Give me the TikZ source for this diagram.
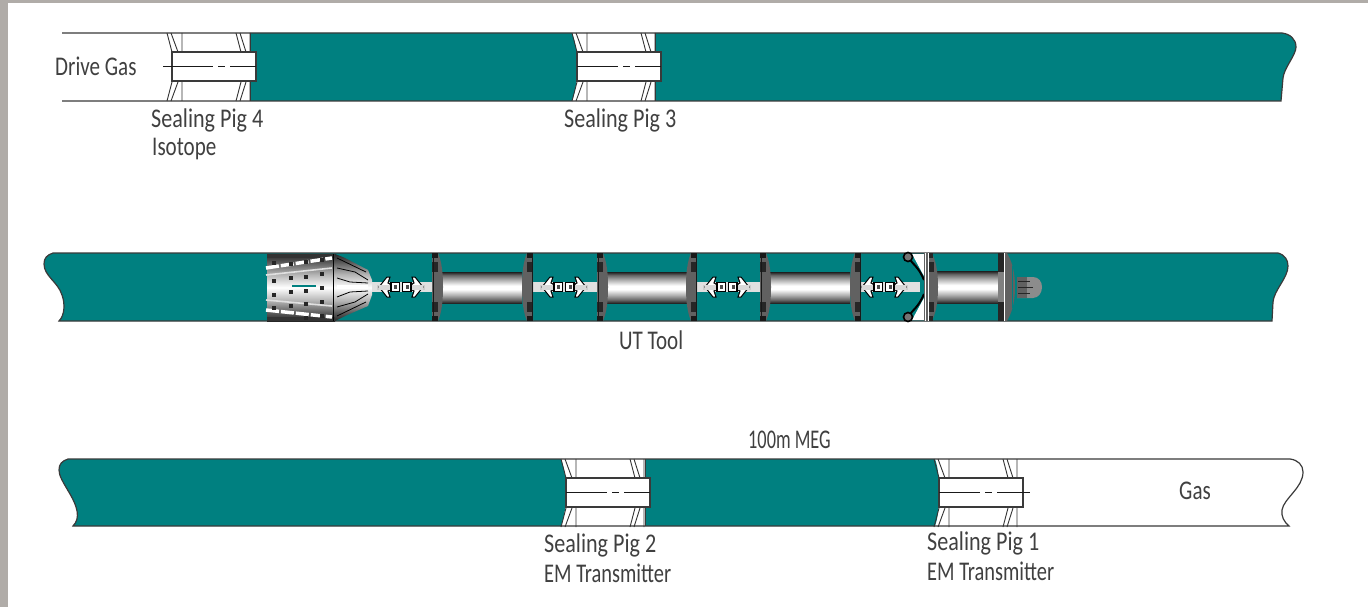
\documentclass[tikz,border=0pt]{standalone}
\usepackage{fontspec}
\setmainfont{Carlito}[FakeStretch=0.78]
\definecolor{pipeteal}{HTML}{008080}
\definecolor{framegray}{HTML}{B0ACA8}
\definecolor{linegray}{HTML}{3A3A3A}
\pgfdeclareverticalshading{tubeshade}{100bp}{color(0bp)=(black!85); color(25bp)=(black!85); color(30bp)=(black!60); color(38bp)=(black!30); color(47bp)=(white); color(53bp)=(white); color(62bp)=(black!30); color(70bp)=(black!60); color(75bp)=(black!88); color(100bp)=(black!88)}
\pgfdeclareverticalshading{cupshade}{100bp}{color(0bp)=(black!85); color(25bp)=(black!85); color(31bp)=(black!65); color(40bp)=(black!30); color(50bp)=(white); color(60bp)=(black!30); color(69bp)=(black!65); color(75bp)=(black!85); color(100bp)=(black!85)}
\tikzset{
  pipeline/.style={draw=linegray,line width=1.2pt},
  thinline/.style={draw=black!80,line width=.9pt},
  lbl/.style={anchor=west,inner sep=0pt,text=black!75,font=\fontsize{27}{27}\selectfont},
  tealfill/.style={fill=pipeteal,draw=none},
  rodfill/.style={fill=black!12,draw=none},
}
% #1 x of rect left, #2 pipe top, #3 line start, #4 line end, #5 dash pos
\newcommand{\pigbody}[5]{%
  \begin{scope}[shift={(#1,#2)}]
    \foreach \dy/\sy in {0/1,68/-1}{
      \begin{scope}[shift={(0,\dy)},yscale=\sy]
        \draw[thinline] (-5,0) -- (0,19) (-1,0) -- (6,19) (10,0) -- (10,19);
        \draw[thinline] (64,0) -- (69,19) (68,0) -- (74,19) (78,0) -- (78,19);
      \end{scope}
    }
    \fill[white] (0,19) rectangle (84,48);
    \draw[draw=linegray,line width=1.2pt] (0,19) rectangle (84,48);
    \draw[draw=black!90,line width=1pt] (#3,33.5) -- (#5,33.5) (#5+5,33.5) -- (#5+12,33.5) (#5+17,33.5) -- (#4,33.5);
  \end{scope}}
% #1 x of left edge, #2 right edge of tube, #3 right disc end
\newcommand{\toolmodule}[3]{%
  \shade[shading=tubeshade] (#1+10,272) rectangle (#2,303);
  \foreach \a/\s in {#1/1,#3/-1}{
    \begin{scope}[shift={(\a,0)},xscale=\s]
      \fill[black!62] (0,253) -- (6,253) .. controls (8,258) and (11,266) .. (11,287) .. controls (11,308) and (8,316) .. (6,321) -- (0,321) -- cycle;
      \fill[black!90] (0,253) rectangle (6,258);
      \fill[black!90] (0,316) rectangle (6,321);
      \fill[black!85] (0,262) rectangle (6,272);
      \fill[black!85] (0,302) rectangle (6,312);
      \draw[black!90,line width=.8pt] (1,253) -- (1,321);
    \end{scope}
  }}
\newcommand{\tooljoint}[3]{%
  \fill[rodfill] (#2,282) rectangle (#3,292);
  \begin{scope}[shift={(#1,287)}]
    \foreach \s in {1,-1}{
      \begin{scope}[xscale=\s]
        \fill[black!20] (3,-2.5) rectangle (24,2.5);
        \draw[black,fill=white,line width=1pt] (22,0) -- (14,-10) -- (11,-10) -- (13,-4) -- (11,-3) -- (11,3) -- (13,4) -- (11,10) -- (14,10) -- cycle;
        \fill[black!15] (10,-2.5) rectangle (22,2.5);
        \draw[black,fill=white,line width=1.2pt] (1.5,-4.5) rectangle (10,4.5);
        \fill[black!70] (4.5,-2) rectangle (7.5,2);
      \end{scope}
    }
  \end{scope}}
\begin{document}
\begin{tikzpicture}[x=1pt,y=-1pt]
\useasboundingbox (0,0) rectangle (1368,607);
\fill[white] (0,0) rectangle (1368,607);
\fill[framegray] (0,0) rectangle (1368,3.5);
\fill[framegray] (0,0) rectangle (8,607);

% ---------- row 1
\fill[tealfill] (250,33) -- (572,33) .. controls (575,42) and (577,48) .. (577,66) .. controls (577,84) and (575,92) .. (572,101) -- (250,101) -- cycle;
\fill[tealfill] (655,33) -- (1282,33) .. controls (1290,34) and (1296,39) .. (1296,47) .. controls (1296,55) and (1284,68) .. (1283,78) -- (1281,101) -- (655,101) -- cycle;
\draw[pipeline] (62,33) -- (1282,33) .. controls (1290,34) and (1296,39) .. (1296,47) .. controls (1296,55) and (1284,68) .. (1283,78) -- (1281,101) -- (62,101);
\draw[draw=linegray,line width=.8pt] (250,33) -- (250,101) (655,33) -- (655,101);
\pigbody{172}{33}{-9}{84}{41}
\pigbody{577}{33}{0}{84}{41}

% ---------- row 2
\fill[tealfill] (53,253) -- (1278,253) .. controls (1285,255) and (1288,260) .. (1288,266) .. controls (1288,278) and (1274,290) .. (1273,302) -- (1272,321) -- (59,321) .. controls (65,315) and (65,303) .. (62,295) .. controls (58,282) and (44,276) .. (44,264) .. controls (44,258) and (47,255) .. (53,253) -- cycle;
\draw[pipeline] (53,253) -- (1278,253) .. controls (1285,255) and (1288,260) .. (1288,266) .. controls (1288,278) and (1274,290) .. (1273,302) -- (1272,321) -- (59,321) .. controls (65,315) and (65,303) .. (62,295) .. controls (58,282) and (44,276) .. (44,264) .. controls (44,258) and (47,255) .. (53,253) -- cycle;

% cup
\shade[shading=cupshade] (267,254) rectangle (335,321);
\fill[black!80] (267,254) rectangle (335,258);
\fill[black!80] (267,317) rectangle (335,321);
\draw[white,line width=3.5pt,dash pattern=on 13pt off 2pt] (266,268) -- (332,258);
\draw[white,line width=3.5pt,dash pattern=on 13pt off 2pt] (266,310) -- (332,317);
\draw[black!12,line width=1.6pt] (266,275) -- (332,268);
\draw[black!12,line width=1.6pt] (266,300) -- (332,306);
\draw[pipeteal,line width=1.1pt] (292,286) -- (316,286);
\foreach \px/\py in {274/263,291/264,306/262,322/260,274/281,291/278,306/277,322/274,274/295,291/292,306/291,322/288,274/308,291/306,306/304,322/302,306/318,322/316}
  \fill[black!85] (\px-2.2,\py-2.2) rectangle (\px+2.2,\py+2.2);
\shade[shading=cupshade] (335,254) -- (345,258) -- (368,270) -- (372,280) -- (372,295) -- (368,306) -- (345,316) -- (335,321) -- cycle;
\draw[black,line width=.8pt] (333,254) -- (333,321);
\draw[black,line width=.8pt] (337,258) -- (366,272) (337,268) -- (355,272) -- (368,280) (337,278) -- (350,282) -- (368,283) (337,297) -- (350,292) -- (368,291) (337,307) -- (355,302) -- (368,294) (337,316) -- (366,302);
\fill[white] (337,285) rectangle (368,289);

\tooljoint{401}{372}{432}
\tooljoint{564}{533}{597}
\tooljoint{727}{696}{760}
\tooljoint{884}{860}{920}

\toolmodule{432}{522}{533}
\toolmodule{597}{687}{697}
\toolmodule{760}{850}{861}

% fourth module with support arms
\fill[white] (912,254) -- (925,254) -- (925,278) -- cycle;
\fill[white] (912,320) -- (925,320) -- (925,296) -- cycle;
\foreach \ya/\yb/\yc in {257/266/280,317/308/294}{
  \draw[black,line width=2pt] (908,\ya) .. controls (914,\yb) and (918,\yb) .. (924,\yc);
  \draw[black,fill=black!55,line width=1.6pt] (908,\ya) circle (4.5);
}
\shade[shading=tubeshade] (937,271) rectangle (999,303);
\fill[black!62] (924,253) -- (932,253) .. controls (935,260) and (938,268) .. (938,287) .. controls (938,306) and (935,314) .. (932,321) -- (924,321) -- cycle;
\fill[black!85] (928,253) rectangle (933,258);
\fill[black!85] (928,316) rectangle (933,321);
\fill[black!85] (928,262) rectangle (934,272);
\fill[black!85] (928,302) rectangle (934,312);
\draw[white,line width=.8pt] (925,253) -- (925,321) (928,253) -- (928,321);
\fill[black!62] (998,253) -- (1007,253) .. controls (1011,260) and (1015,270) .. (1015,287) .. controls (1015,304) and (1011,314) .. (1007,321) -- (998,321) -- cycle;
\fill[black!85] (998,253) rectangle (1004,272);
\fill[black!85] (998,302) rectangle (1004,321);
\fill[black!50] (998,272) rectangle (1004,302);
\draw[white,line width=.8pt] (1004,253) -- (1004,321);
\draw[pipeteal,line width=.8pt] (1012,266) -- (1012,308);
\fill[black!45] (1017,277) -- (1033,277) .. controls (1039,277) and (1042,282) .. (1042,287) .. controls (1042,292) and (1039,298) .. (1033,298) -- (1017,298) -- cycle;
\fill[black!62] (1017,277) rectangle (1027,298);
\draw[black!85,line width=.6pt] (1018,281) -- (1030,281) (1018,287) -- (1033,287) (1018,293) -- (1030,293);

% ---------- row 3
\fill[tealfill] (68,459) -- (561,459) .. controls (564,468) and (566,476) .. (566,492) .. controls (566,508) and (564,517) .. (561,526) -- (73,526) .. controls (81,518) and (77,506) .. (70,494) .. controls (63,482) and (59,476) .. (59,470) .. controls (59,464) and (62,461) .. (68,459) -- cycle;
\fill[tealfill] (645,459) -- (935,459) .. controls (938,468) and (939,476) .. (939,492) .. controls (939,508) and (938,517) .. (935,526) -- (645,526) -- cycle;
\draw[pipeline] (1290,459) -- (68,459) .. controls (62,461) and (59,464) .. (59,470) .. controls (59,476) and (63,482) .. (70,494) .. controls (77,506) and (81,518) .. (73,526) -- (1289,526) .. controls (1284,522) and (1281,516) .. (1282,510) .. controls (1284,498) and (1303,488) .. (1303,472) .. controls (1303,465) and (1298,460) .. (1290,459);
\draw[draw=linegray,line width=.8pt] (645,459) -- (645,526);
\pigbody{566}{459}{0}{84}{41}
\pigbody{939}{459}{0}{91}{41}

% ---------- labels
\node[lbl] (drivegas) at (55,66) {Drive Gas};
\node[lbl,xscale=1.05] (pigfour) at (151,120) {Sealing Pig 4};
\node[lbl] (isotope) at (152,149) {Isotope};
\node[lbl,xscale=1.05] (pigthree) at (564,120) {Sealing Pig 3};
\node[lbl] (uttool) at (619,340) {UT Tool};
\node[lbl,xscale=.87] (meg) at (748,440) {100m MEG};
\node[lbl] (gas) at (1179,491) {Gas};
\node[lbl,xscale=1.05] (pigtwo) at (544,545) {Sealing Pig 2};
\node[lbl,xscale=.97] (emtwo) at (544,573) {EM Transmitter};
\node[lbl,xscale=1.05] (pigone) at (927,543) {Sealing Pig 1};
\node[lbl,xscale=.97] (emone) at (927,571) {EM Transmitter};
\end{tikzpicture}
\end{document}
